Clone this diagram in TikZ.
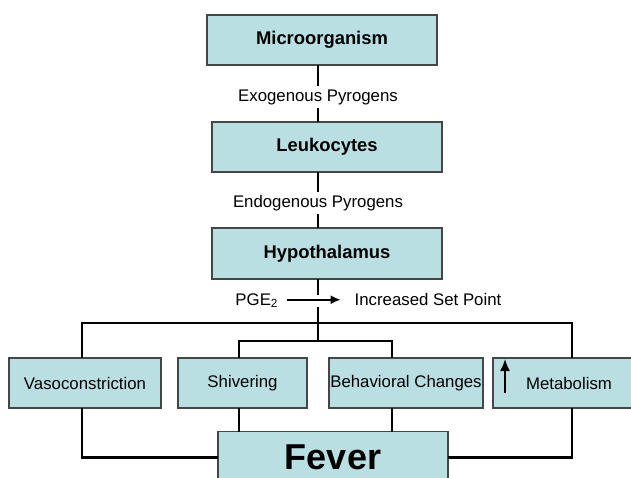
\documentclass[tikz,border=0pt]{standalone}
\usepackage{fontspec}
\setmainfont{Liberation Sans}
\usetikzlibrary{arrows.meta}
\definecolor{boxfill}{RGB}{186,223,227}
\definecolor{boxline}{RGB}{70,70,70}
\begin{document}
\begin{tikzpicture}[x=0.5pt,y=-0.5pt,outer sep=0pt,inner sep=0pt]
	\tikzstyle{box_style} = [draw=boxline, line width=0.75pt, fill=boxfill, font=\fontsize{9.2}{11}\selectfont\bfseries, minimum width=115pt, minimum height=25pt]
	\tikzstyle{act_style} = [draw=boxline, line width=0.75pt, fill=boxfill, font=\fontsize{8.4}{10}\selectfont, minimum height=25pt, inner sep=0.5pt]
	\tikzstyle{text_style} = [font=\fontsize{8.4}{10}\selectfont]
	\tikzstyle{label_style} = [text_style, fill=white, inner xsep=2pt, inner ysep=1.5pt]
	\tikzstyle{link_style} = [line width=1.1pt]
	\useasboundingbox (0,0) rectangle (631,477);
	\path (322,40) node[box_style] (micro) {Microorganism};
	\path (327,147) node[box_style] (leuko) {Leukocytes};
	\path (327,253.5) node[box_style,minimum height=25.5pt] (hypo) {Hypothalamus};
	%%%
	\coordinate (spine) at (318,0);
	\coordinate (gapT) at (318,295);
	\coordinate (gapB) at (318,307);
	\coordinate (busL) at (82,323);
	\coordinate (busR) at (572,323);
	\coordinate (inL) at (239,341);
	\coordinate (inR) at (392,341);
	%%%
	\draw[link_style] (spine |- micro.south) -- (spine |- leuko.north);
	\draw[link_style] (spine |- leuko.south) -- (spine |- hypo.north);
	\path (318,97) node[label_style] (exo) {Exogenous Pyrogens};
	\path (318,203) node[label_style] (endo) {Endogenous Pyrogens};
	%%%
	\path (257,305) node[text_style,anchor=base] (pge) {PGE\textsubscript{2}};
	\path (428,305) node[text_style,anchor=base] (setpoint) {Increased Set Point};
	\draw[line width=0.9pt,-{Latex[length=5pt,width=4.5pt]},shorten <=4pt,shorten >=7pt] (pge.mid east) -- (setpoint.mid west);
	\draw[link_style] (spine |- hypo.south) -- (gapT);
	\draw[link_style] (gapB) -- (spine |- inL);
	%%%
	\foreach[count=\i] \cx/\w/\t in {85/152/Vasoconstriction,242.5/129/Shivering,406/154/Behavioral Changes,569/152/Metabolism}{
		\path (\cx,383) node[act_style,minimum width=\w*0.5pt] (act-\i) {\t};
	}
	\draw[line width=0.9pt,-{Latex[length=6pt,width=5pt]}] (505,393) -- (505,359);
	\path (333,457.5) node[act_style,font=\fontsize{18}{20}\selectfont\bfseries,minimum width=115pt,minimum height=26pt] (fever) {Fever};
	%%%
	\draw[link_style] (busL |- act-1.north) -- (busL) -- (busR) -- (busR |- act-4.north);
	\draw[link_style] (inL |- act-2.north) -- (inL) -- (inR) -- (inR |- act-3.north);
	\draw[link_style] (busL |- act-1.south) |- (fever.west);
	\draw[link_style] (busR |- act-4.south) |- (fever.east);
	\draw[link_style] (inL |- act-2.south) -- (inL |- fever.north);
	\draw[link_style] (inR |- act-3.south) -- (inR |- fever.north);
\end{tikzpicture}
\end{document}
